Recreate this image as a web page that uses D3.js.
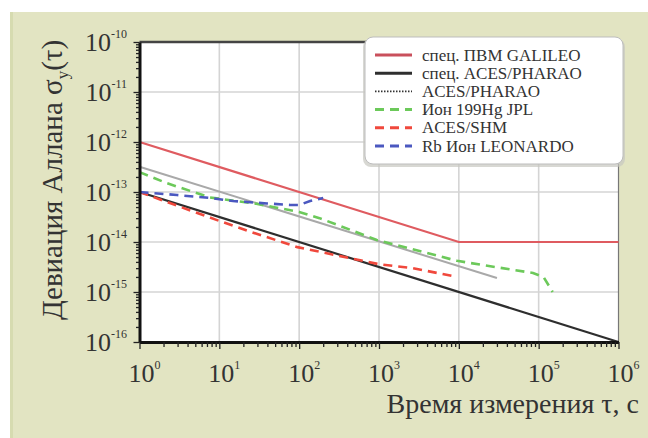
<!DOCTYPE html>
<html>
<head>
<meta charset="utf-8">
<script src="https://cdn.jsdelivr.net/npm/d3@7"></script>
<style>
  body { margin: 0; background: #fff; }
  svg { display: block; }
</style>
</head>
<body>
<div id="chart"></div>
<script>
// size
var width = 648;
var height = 438;
var serifFont = 'Liberation Serif';

// data: averaging time tau (s) and Allan deviation
var galileoTau = [1, 1e4, 1e6];
var galileoSig = [1e-12, 1e-14, 1e-14];

var acesSpecTau = [1, 1e6];
var acesSpecSig = [1e-13, 1e-16];

var acesTau = [1, 3e4];
var acesSig = [3.2e-13, 1.9e-15];

var jplTau = [1, 2.2, 7.6, 29, 100, 180, 940, 9500, 27000, 85000, 115000, 150000];
var jplSig = [2.5e-13, 1.5e-13, 7.8e-14, 5.8e-14, 4e-14, 3e-14, 1.1e-14, 4.2e-15, 3.2e-15, 2.4e-15, 2e-15, 1e-15];

var shmTau = [1, 9, 23, 95, 245, 1000, 2650, 9500];
var shmSig = [1e-13, 2.8e-14, 1.66e-14, 7.9e-15, 5.75e-15, 3.6e-15, 3e-15, 2e-15];

var leoTau = [1, 2.95, 7.6, 14.8, 39.5, 77, 100, 137, 200];
var leoSig = [1e-13, 8.7e-14, 7.6e-14, 6.6e-14, 5.9e-14, 5.5e-14, 5.5e-14, 6.6e-14, 7.6e-14];

var legendNames = ['спец. ПВМ GALILEO', 'спец. ACES/PHARAO', 'ACES/PHARAO',
                   'Ион 199Hg JPL', 'ACES/SHM', 'Rb Ион LEONARDO'];
var xTickExp = [0, 1, 2, 3, 4, 5, 6];
var yTickExp = [-16, -15, -14, -13, -12, -11, -10];

var series = [
  { tau: galileoTau, sig: galileoSig, color: '#df5b60', dash: null, w: 2.2 },
  { tau: acesSpecTau, sig: acesSpecSig, color: '#2e2e2e', dash: null, w: 2.2 },
  { tau: acesTau, sig: acesSig, color: '#a9a9a9', dash: null, w: 2 },
  { tau: jplTau, sig: jplSig, color: '#6cc95a', dash: '9,6', w: 2.6 },
  { tau: shmTau, sig: shmSig, color: '#f0483c', dash: '9,6', w: 2.6 },
  { tau: leoTau, sig: leoSig, color: '#4b58c0', dash: '9,6', w: 2.6 }
];
var legendStyle = [
  { color: '#c9505c', dash: null, w: 3 },
  { color: '#2e2e2e', dash: null, w: 3 },
  { color: '#333', dash: '1.5,1.5', w: 1.8 },
  { color: '#6cc95a', dash: '9,6', w: 3 },
  { color: '#f0483c', dash: '9,6', w: 3 },
  { color: '#4b58c0', dash: '9,6', w: 3 }
];

var pLeft = 139.5, pRight = 618.5, pTop = 42, pBottom = 342;

var x = d3.scaleLog().domain([1, 1e6]).range([pLeft, pRight]);
var y = d3.scaleLog().domain([1e-16, 1e-10]).range([pBottom, pTop]);

var svg = d3.select('#chart').append('svg')
  .attr('width', width)
  .attr('height', height);

// background
svg.append('rect').attr('x', 10).attr('y', 12)
  .attr('width', width - 10).attr('height', height - 12)
  .attr('fill', '#e2e4c2');
svg.append('rect').attr('x', 10).attr('y', 12)
  .attr('width', 3).attr('height', height - 12)
  .attr('fill', '#d6dbb0');

// plot area
svg.append('rect').attr('x', pLeft).attr('y', pTop)
  .attr('width', pRight - pLeft).attr('height', pBottom - pTop)
  .attr('fill', '#fff');

// grid
svg.append('g').selectAll('line')
  .data(xTickExp.slice(1, -1))
  .enter().append('line')
  .attr('x1', function (d) { return x(Math.pow(10, d)); })
  .attr('x2', function (d) { return x(Math.pow(10, d)); })
  .attr('y1', pTop).attr('y2', pBottom)
  .attr('stroke', '#d4d4d4').attr('stroke-width', 1.6);
svg.append('g').selectAll('line')
  .data(yTickExp.slice(1, -1))
  .enter().append('line')
  .attr('y1', function (d) { return y(Math.pow(10, d)); })
  .attr('y2', function (d) { return y(Math.pow(10, d)); })
  .attr('x1', pLeft).attr('x2', pRight)
  .attr('stroke', '#d4d4d4').attr('stroke-width', 1.6);

// top and right frame
svg.append('line').attr('x1', pLeft).attr('x2', pRight).attr('y1', pTop).attr('y2', pTop)
  .attr('stroke', '#444').attr('stroke-width', 2.4);
svg.append('line').attr('x1', pRight).attr('x2', pRight).attr('y1', pTop).attr('y2', pBottom)
  .attr('stroke', '#777').attr('stroke-width', 1.2);

// curves
var lineGen = d3.line()
  .x(function (d) { return x(d[0]); })
  .y(function (d) { return y(d[1]); });

svg.append('g').selectAll('path')
  .data(series)
  .enter().append('path')
  .attr('d', function (s) { return lineGen(d3.zip(s.tau, s.sig)); })
  .attr('fill', 'none')
  .attr('stroke', function (s) { return s.color; })
  .attr('stroke-width', function (s) { return s.w; })
  .attr('stroke-dasharray', function (s) { return s.dash; });

// axes with minor ticks 2..9 per decade
function logTicks(exps) {
  var t = [];
  exps.forEach(function (e, i) {
    if (i === exps.length - 1) { t.push(Math.pow(10, e)); return; }
    for (var k = 1; k < 10; k++) t.push(k * Math.pow(10, e));
  });
  return t;
}
function isMajor(v) {
  var l = Math.log10(v);
  return Math.abs(l - Math.round(l)) < 1e-6;
}

var xAxis = d3.axisBottom(x).tickValues(logTicks(xTickExp)).tickFormat('').tickSizeOuter(0);
var yAxis = d3.axisLeft(y).tickValues(logTicks(yTickExp)).tickFormat('').tickSizeOuter(0);

var gx = svg.append('g').attr('transform', 'translate(0,' + pBottom + ')').call(xAxis);
var gy = svg.append('g').attr('transform', 'translate(' + pLeft + ',0)').call(yAxis);
gx.selectAll('.tick line')
  .attr('y2', function (d) { return isMajor(d) ? 7 : 5; })
  .attr('stroke', '#222').attr('stroke-width', 1.3);
gy.selectAll('.tick line')
  .attr('x2', function (d) { return isMajor(d) ? -6 : -3.5; })
  .attr('stroke', '#222').attr('stroke-width', 1.3);
gx.select('.domain').attr('stroke', '#111').attr('stroke-width', 3);
gy.select('.domain').attr('stroke', '#111').attr('stroke-width', 3);

// tick labels
var xl = svg.append('g').selectAll('text')
  .data(xTickExp)
  .enter().append('text')
  .attr('x', function (d) { return x(Math.pow(10, d)) + 5; })
  .attr('y', 382)
  .attr('text-anchor', 'middle')
  .attr('font-family', serifFont)
  .attr('fill', '#333')
  .attr('font-size', 26);
xl.append('tspan').text('10');
xl.append('tspan').attr('dy', -13).attr('font-size', 12).text(function (d) { return d; });

var yl = svg.append('g').selectAll('text')
  .data(yTickExp)
  .enter().append('text')
  .attr('x', 127)
  .attr('y', function (d) { return y(Math.pow(10, d)) + 9; })
  .attr('text-anchor', 'end')
  .attr('font-family', serifFont)
  .attr('fill', '#333')
  .attr('font-size', 26);
yl.append('tspan').text('10');
yl.append('tspan').attr('dy', -13).attr('font-size', 12).text(function (d) { return d; });

// axis titles
var yt = svg.append('text')
  .attr('transform', 'translate(62,180) rotate(-90)')
  .attr('text-anchor', 'middle')
  .attr('font-family', serifFont)
  .attr('fill', '#333')
  .attr('font-size', 29);
yt.append('tspan').text('Девиация Аллана σ');
yt.append('tspan').attr('dy', 6).attr('font-size', 17).text('y');
yt.append('tspan').attr('dy', -6).text('(τ)');

svg.append('text')
  .attr('x', 639).attr('y', 413)
  .attr('text-anchor', 'end')
  .attr('font-family', serifFont)
  .attr('fill', '#333')
  .attr('font-size', 28)
  .text('Время измерения τ, с');

// legend
var lg = svg.append('g');
lg.append('rect').attr('x', 363).attr('y', 39)
  .attr('width', 262).attr('height', 128).attr('rx', 8)
  .attr('fill', '#c8c8c0').attr('opacity', 0.7);
lg.append('rect').attr('x', 365).attr('y', 37)
  .attr('width', 258).attr('height', 127).attr('rx', 8)
  .attr('fill', '#fff').attr('stroke', '#bdbdbd').attr('stroke-width', 1);

var items = lg.selectAll('g.item')
  .data(legendNames)
  .enter().append('g')
  .attr('transform', function (d, i) { return 'translate(0,' + (55 + i * 18.2) + ')'; });
items.append('line')
  .attr('x1', 375).attr('x2', 412).attr('y1', 0).attr('y2', 0)
  .attr('stroke', function (d, i) { return legendStyle[i].color; })
  .attr('stroke-width', function (d, i) { return legendStyle[i].w; })
  .attr('stroke-dasharray', function (d, i) { return legendStyle[i].dash; });
items.append('text')
  .attr('x', 422).attr('y', 5.5)
  .attr('font-family', serifFont)
  .attr('fill', '#333')
  .attr('font-size', 17)
  .text(function (d) { return d; });
</script>
</body>
</html>
